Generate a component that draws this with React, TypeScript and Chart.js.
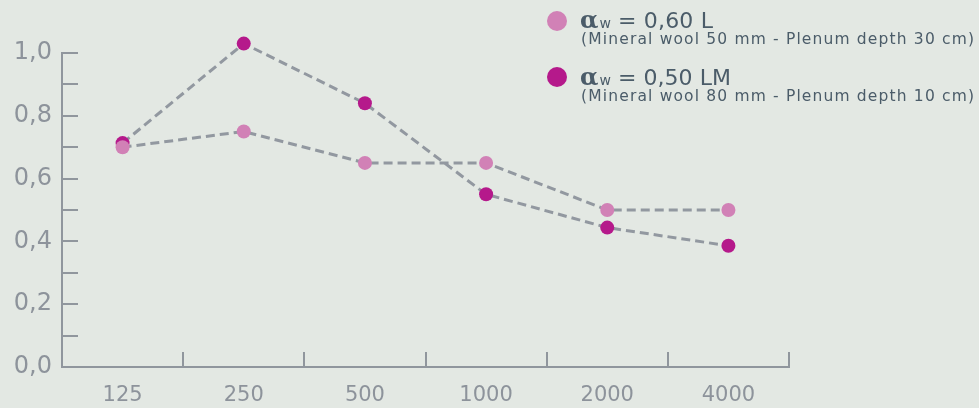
import React, { useEffect, useRef } from "react";
import { Chart, registerables } from "chart.js";

Chart.register(...registerables);

const categories = ["125", "250", "500", "1000", "2000", "4000"];
const seriesL = [0.70, 0.75, 0.65, 0.65, 0.50, 0.50];
const seriesLM = [0.713, 1.03, 0.84, 0.55, 0.444, 0.386];
const yMajorTicks = [0, 0.2, 0.4, 0.6, 0.8, 1.0];
const yMinorTicks = [0.1, 0.2, 0.3, 0.4, 0.5, 0.6, 0.7, 0.8, 0.9, 1.0];
const legendTitles = ["= 0,60 L", "= 0,50 LM"];
const legendSubs = [
  "(Mineral wool 50 mm - Plenum depth 30 cm)",
  "(Mineral wool 80 mm - Plenum depth 10 cm)",
];

const BG = "#e3e8e3";
const PINK = "#d181b6";
const MAGENTA = "#b5198b";
const AXIS = "#90969d";
const LABEL = "#8d939b";
const TEXT = "#4b5c69";
const LINE = "#9298a0";

const insideTicks = {
  id: "insideTicks",
  afterDraw(chart: any) {
    const ctx = chart.ctx;
    const { left, bottom } = chart.chartArea;
    const x = chart.scales.x;
    const y = chart.scales.y;
    ctx.save();
    ctx.strokeStyle = AXIS;
    ctx.lineWidth = 2;
    ctx.beginPath();
    ctx.moveTo(left, Math.round(y.getPixelForValue(1.0)) - 1);
    ctx.lineTo(left, bottom);
    yMinorTicks.forEach((v) => {
      const py = Math.round(y.getPixelForValue(v));
      ctx.moveTo(left, py);
      ctx.lineTo(left + 16, py);
    });
    const half = (x.getPixelForValue(1) - x.getPixelForValue(0)) / 2;
    categories.forEach((_, i) => {
      const px = Math.round(x.getPixelForValue(i) + half);
      ctx.moveTo(px, bottom);
      ctx.lineTo(px, bottom - 15);
    });
    ctx.stroke();
    ctx.restore();
  },
};

const drawFitted = (ctx: any, text: string, x: number, y: number, target: number) => {
  ctx.letterSpacing = "0px";
  const w = ctx.measureText(text).width;
  const sp = (target - w) / Math.max(1, text.length - 1);
  ctx.letterSpacing = sp.toFixed(2) + "px";
  ctx.fillText(text, x, y);
  ctx.letterSpacing = "0px";
};

const legendPlugin = {
  id: "customLegend",
  afterDraw(chart: any) {
    const ctx = chart.ctx;
    const colors = [PINK, MAGENTA];
    const rows = [
      { cy: 21, base: 28, sub: 44 },
      { cy: 77, base: 85, sub: 101 },
    ];
    ctx.save();
    rows.forEach((r, i) => {
      ctx.fillStyle = colors[i];
      ctx.beginPath();
      ctx.arc(557, r.cy, 10, 0, Math.PI * 2);
      ctx.fill();
      ctx.fillStyle = TEXT;
      ctx.textBaseline = "alphabetic";
      ctx.textAlign = "left";
      ctx.font = "bold 24px 'DejaVu Serif'";
      ctx.fillText("α", 580, r.base);
      const aw = ctx.measureText("α").width;
      ctx.font = "14px 'DejaVu Sans'";
      ctx.fillText("w", 581 + aw, r.base);
      ctx.font = "22px 'DejaVu Sans'";
      drawFitted(ctx, legendTitles[i], 618, r.base, i === 0 ? 95 : 113);
      ctx.font = "15.5px 'DejaVu Sans'";
      drawFitted(ctx, legendSubs[i], 581, r.sub, 393);
    });
    ctx.restore();
  },
};

const bgPlugin = {
  id: "bg",
  beforeDraw(chart: any) {
    const ctx = chart.ctx;
    ctx.save();
    ctx.fillStyle = BG;
    ctx.fillRect(0, 0, chart.width, chart.height);
    ctx.restore();
  },
};

export default function App() {
  const ref = useRef<HTMLCanvasElement | null>(null);
  useEffect(() => {
    if (!ref.current) return;
    const chart = new Chart(ref.current, {
      type: "line",
      data: {
        labels: categories,
        datasets: [
          {
            label: legendTitles[0],
            data: seriesL,
            borderColor: LINE,
            borderWidth: 3,
            borderDash: [9, 5],
            pointRadius: 7,
            pointBackgroundColor: PINK,
            pointBorderWidth: 0,
            tension: 0,
            clip: false,
          },
          {
            label: legendTitles[1],
            data: seriesLM,
            borderColor: LINE,
            borderWidth: 3,
            borderDash: [9, 5],
            pointRadius: 7,
            pointBackgroundColor: MAGENTA,
            pointBorderWidth: 0,
            tension: 0,
            clip: false,
          },
        ],
      },
      options: {
        animation: false,
        responsive: false,
        layout: { padding: { top: 21.6, right: 190, left: 0, bottom: 0 } },
        plugins: { legend: { display: false }, tooltip: { enabled: false } },
        scales: {
          x: {
            type: "category",
            offset: true,
            grid: { display: true, drawOnChartArea: false, drawTicks: false, offset: true, color: "rgba(0,0,0,0)" },
            border: { display: true, color: AXIS, width: 2 },
            ticks: { color: LABEL, font: { family: "'DejaVu Sans'", size: 21 }, padding: 16 },
            afterFit: (s: any) => { s.height = 41; },
          },
          y: {
            min: 0,
            max: 1.1,
            grid: { display: true, drawOnChartArea: false, drawTicks: false, color: "rgba(0,0,0,0)" },
            border: { display: false },
            afterBuildTicks: (s: any) => { s.ticks = yMajorTicks.map((v) => ({ value: v })); },
            ticks: {
              color: LABEL,
              font: { family: "'DejaVu Sans'", size: 24 },
              padding: 10,
              callback: (v: any) => Number(v).toFixed(1).replace(".", ","),
            },
            afterFit: (s: any) => { s.width = 62; s.paddingTop = 0; s.paddingBottom = 0; },
          },
        },
      },
      plugins: [bgPlugin, insideTicks, legendPlugin],
    } as any);
    return () => chart.destroy();
  }, []);
  return (
    <div style={{ position: "fixed", left: 0, top: 0, width: 979, height: 408, background: BG }}>
      <canvas ref={ref} width={979} height={408} style={{ display: "block" }} />
    </div>
  );
}
